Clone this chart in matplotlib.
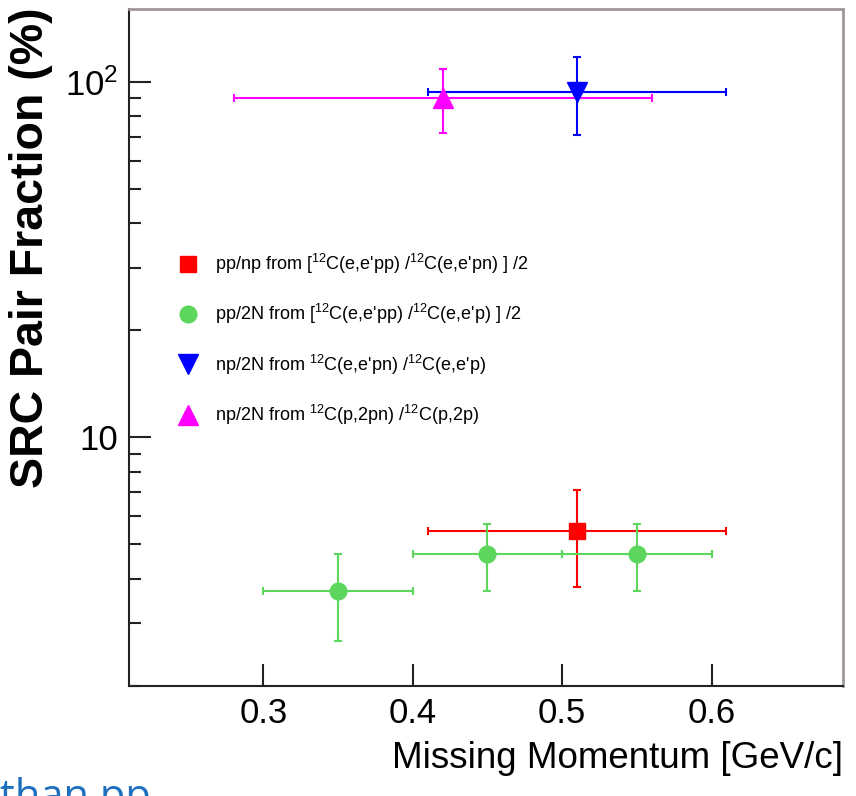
import numpy as np
import matplotlib
matplotlib.use("Agg")
import matplotlib.pyplot as plt

plt.rcParams["font.family"] = "Liberation Sans"
plt.rcParams["mathtext.fontset"] = "custom"
plt.rcParams["mathtext.rm"] = "Liberation Sans"
plt.rcParams["mathtext.it"] = "Liberation Sans:italic"

# pp/np from [12C(e,e'pp)/12C(e,e'pn)]/2
ppnp_x = [0.51]
ppnp_y = [5.45]
ppnp_ylow = [3.79]
ppnp_yhigh = [7.13]
ppnp_xerr = [0.10]

# pp/2N from [12C(e,e'pp)/12C(e,e'p)]/2
pp2n_x = [0.35, 0.45, 0.55]
pp2n_y = [3.69, 4.69, 4.69]
pp2n_ylow = [2.68, 3.69, 3.69]
pp2n_yhigh = [4.69, 5.69, 5.69]
pp2n_xerr = [0.05, 0.05, 0.05]

# np/2N from 12C(e,e'pn)/12C(e,e'p)
np2n_x = [0.51]
np2n_y = [93.7]
np2n_ylow = [70.7]
np2n_yhigh = [117.1]
np2n_xerr = [0.10]

# np/2N from 12C(p,2pn)/12C(p,2p)
pnp_x = [0.42]
pnp_y = [89.9]
pnp_ylow = [71.7]
pnp_yhigh = [108.8]
pnp_xerr = [0.14]

xticks = [0.3, 0.4, 0.5, 0.6]
xticklabels = ["0.3", "0.4", "0.5", "0.6"]

labels = [
    r"pp/np from [$^{12}$C(e,e'pp) /$^{12}$C(e,e'pn) ] /2",
    r"pp/2N from [$^{12}$C(e,e'pp) /$^{12}$C(e,e'p) ] /2",
    r"np/2N from $^{12}$C(e,e'pn) /$^{12}$C(e,e'p)",
    r"np/2N from $^{12}$C(p,2pn) /$^{12}$C(p,2p)",
]


def yerr(y, lo, hi):
    y = np.array(y)
    return [y - np.array(lo), np.array(hi) - y]


fig = plt.figure(figsize=(8.56, 7.96), dpi=100)
ax = fig.add_axes([0.1507, 0.1382, 0.8341, 0.8505])

kw = dict(linestyle="none", elinewidth=1.5, capsize=3, capthick=1.5)
e1 = ax.errorbar(ppnp_x, ppnp_y, xerr=ppnp_xerr, yerr=yerr(ppnp_y, ppnp_ylow, ppnp_yhigh),
                 color="#ff0000", marker="s", ms=11, **kw)
e2 = ax.errorbar(pp2n_x, pp2n_y, xerr=pp2n_xerr, yerr=yerr(pp2n_y, pp2n_ylow, pp2n_yhigh),
                 color="#5cd65c", marker="o", ms=12, **kw)
e3 = ax.errorbar(np2n_x, np2n_y, xerr=np2n_xerr, yerr=yerr(np2n_y, np2n_ylow, np2n_yhigh),
                 color="#0000ff", marker="v", ms=14, **kw)
e4 = ax.errorbar(pnp_x, pnp_y, xerr=pnp_xerr, yerr=yerr(pnp_y, pnp_ylow, pnp_yhigh),
                 color="#ff00ff", marker="^", ms=14, **kw)

ax.set_yscale("log")
ax.set_xlim(0.21, 0.688)
ax.set_ylim(2.0, 160)

ax.set_xticks(xticks)
ax.set_xticklabels(xticklabels, fontsize=25)
ax.set_yticks([10, 100])
ax.set_yticklabels(["10", r"$\mathregular{10^{2}}$"], fontsize=25)
ax.tick_params(axis="both", which="major", direction="in", length=16, width=1.5,
               color="#222222", pad=8)
ax.tick_params(axis="y", which="minor", direction="in", length=8.5, width=1.5,
               color="#222222")
ax.tick_params(axis="x", which="minor", bottom=False)

for side in ["left", "bottom"]:
    ax.spines[side].set_color("#222222")
    ax.spines[side].set_linewidth(1.5)
for side in ["top", "right"]:
    ax.spines[side].set_color("#a09898")
    ax.spines[side].set_linewidth(2)

ax.set_xlabel("Missing Momentum [GeV/c]", fontsize=26.5, loc="right", labelpad=8)
ax.set_ylabel("SRC Pair Fraction (%)", fontsize=33.5, fontweight="bold")
ax.yaxis.set_label_coords(-0.106, 0.647)

leg = ax.legend([e1[0], e2[0], e3[0], e4[0]], labels,
                loc="upper left", bbox_to_anchor=(0.045, 0.665), frameon=False,
                fontsize=13, labelspacing=1.45, handletextpad=0.9, handlelength=1.2,
                numpoints=1)

fig.text(0.0, -0.016, "than pp", fontsize=30, color="#1f6fbf",
         family="Open Sans", va="baseline", ha="left")

fig.savefig("out.png", dpi=100)
plt.close()
